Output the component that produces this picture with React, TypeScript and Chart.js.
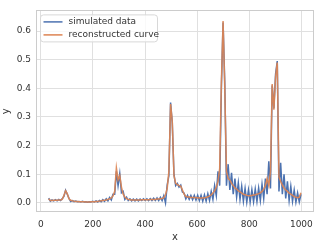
import React, { useEffect, useRef } from "react";
import { Chart, registerables } from "chart.js";

Chart.register(...registerables);

const xs = [
  30, 36.5, 43, 49.5, 56, 62.5, 69, 75.5, 82, 88.5,
  95, 101.5, 108, 114.5, 121, 127.5, 134, 140.5, 147, 153.5,
  160, 166.5, 173, 179.5, 186, 192.5, 199, 205.5, 212, 218.5,
  225, 231.5, 238, 244.5, 251, 257.5, 264, 270.5, 277, 283.5,
  290, 296.5, 303, 309.5, 316, 322.5, 329, 335.5, 342, 348.5,
  355, 361.5, 368, 374.5, 381, 387.5, 394, 400.5, 407, 413.5,
  420, 426.5, 433, 439.5, 446, 452.5, 459, 465.5, 472, 478.5,
  485, 491.5, 498, 504.5, 511, 517.5, 524, 530.5, 537, 543.5,
  550, 556.5, 563, 569.5, 576, 582.5, 589, 595.5, 602, 608.5,
  615, 621.5, 628, 634.5, 641, 647.5, 654, 660.5, 667, 673.5,
  680, 686.5, 693, 699.5, 706, 712.5, 719, 725.5, 732, 738.5,
  745, 751.5, 758, 764.5, 771, 777.5, 784, 790.5, 797, 803.5,
  810, 816.5, 823, 829.5, 836, 842.5, 849, 855.5, 862, 868.5,
  875, 881.5, 888, 894.5, 901, 907.5, 914, 920.5, 927, 933.5,
  940, 946.5, 953, 959.5, 966, 972.5, 979, 985.5, 992, 998.5,
];

const simulated = [
  0.016, 0.006, 0.010, 0.007, 0.011, 0.007, 0.012, 0.008, 0.014, 0.022,
  0.044, 0.030, 0.016, 0.005, 0.008, 0.004, 0.006, 0.004, 0.005, 0.003,
  0.005, 0.003, 0.004, 0.002, 0.004, 0.003, 0.005, 0.003, 0.007, 0.003,
  0.008, 0.004, 0.011, 0.005, 0.014, 0.007, 0.019, 0.010, 0.030, 0.030,
  0.110, 0.060, 0.102, 0.035, 0.040, 0.012, 0.020, 0.008, 0.014, 0.007,
  0.013, 0.007, 0.013, 0.007, 0.013, 0.008, 0.014, 0.008, 0.014, 0.008,
  0.015, 0.008, 0.016, 0.008, 0.017, 0.008, 0.019, 0.008, 0.025, 0.000,
  0.062, 0.095, 0.350, 0.280, 0.100, 0.060, 0.068, 0.055, 0.062, 0.038,
  0.034, 0.014, 0.026, 0.012, 0.026, 0.011, 0.026, 0.010, 0.026, 0.008,
  0.026, 0.006, 0.028, 0.006, 0.032, 0.008, 0.040, 0.012, 0.060, 0.025,
  0.110, 0.060, 0.400, 0.630, 0.420, 0.060, 0.135, 0.045, 0.105, 0.030,
  0.085, 0.020, 0.070, 0.012, 0.058, 0.005, 0.050, 0.002, 0.045, 0.003,
  0.046, 0.004, 0.048, 0.005, 0.052, 0.008, 0.065, 0.015, 0.085, 0.030,
  0.145, 0.050, 0.410, 0.330, 0.450, 0.495, 0.040, 0.140, 0.030, 0.100,
  0.015, 0.075, 0.008, 0.058, 0.005, 0.045, 0.002, 0.035, 0.003, 0.030,
];

const reconstructed = [
  0.014, 0.008, 0.008, 0.009, 0.009, 0.009, 0.010, 0.010, 0.012, 0.025,
  0.042, 0.032, 0.014, 0.009, 0.007, 0.006, 0.005, 0.005, 0.004, 0.004,
  0.004, 0.004, 0.003, 0.003, 0.003, 0.004, 0.004, 0.004, 0.005, 0.005,
  0.006, 0.007, 0.008, 0.009, 0.010, 0.012, 0.014, 0.017, 0.024, 0.040,
  0.122, 0.080, 0.095, 0.055, 0.030, 0.020, 0.015, 0.012, 0.011, 0.010,
  0.010, 0.010, 0.010, 0.010, 0.010, 0.011, 0.011, 0.011, 0.011, 0.011,
  0.012, 0.012, 0.012, 0.012, 0.013, 0.013, 0.014, 0.015, 0.018, 0.028,
  0.050, 0.110, 0.345, 0.285, 0.095, 0.068, 0.064, 0.060, 0.058, 0.045,
  0.030, 0.022, 0.020, 0.020, 0.019, 0.019, 0.019, 0.018, 0.018, 0.017,
  0.017, 0.017, 0.018, 0.019, 0.021, 0.024, 0.028, 0.034, 0.042, 0.055,
  0.075, 0.120, 0.420, 0.635, 0.400, 0.110, 0.085, 0.080, 0.068, 0.060,
  0.052, 0.048, 0.042, 0.038, 0.034, 0.030, 0.028, 0.026, 0.025, 0.025,
  0.026, 0.027, 0.028, 0.030, 0.032, 0.035, 0.040, 0.048, 0.060, 0.085,
  0.060, 0.110, 0.415, 0.325, 0.440, 0.490, 0.090, 0.075, 0.062, 0.052,
  0.045, 0.040, 0.034, 0.030, 0.026, 0.022, 0.020, 0.018, 0.020, 0.035,
];

const xTicks = [0, 200, 400, 600, 800, 1000];
const yTicks = [0, 0.1, 0.2, 0.3, 0.4, 0.5, 0.6];
const seriesNames = ["simulated data", "reconstructed curve"];
const seriesColors = ["#4c72b0", "#dd8452"];

const FONT = "'DejaVu Sans', sans-serif";
const TEXT = "#333333";

const framePlugin = {
  id: "frame",
  afterDatasetsDraw(chart: any) {
    const { ctx, chartArea: a } = chart;
    ctx.save();
    ctx.strokeStyle = "#cccccc";
    ctx.lineWidth = 1;
    ctx.strokeRect(Math.round(a.left) + 0.5, Math.round(a.top) + 0.5, Math.round(a.right - a.left) - 1, Math.round(a.bottom - a.top) - 1);

    // legend
    const bx = a.left + 4.5, by = a.top + 4.5, bw = 117, bh = 27;
    ctx.beginPath();
    const r = 3;
    ctx.moveTo(bx + r, by);
    ctx.lineTo(bx + bw - r, by);
    ctx.quadraticCurveTo(bx + bw, by, bx + bw, by + r);
    ctx.lineTo(bx + bw, by + bh - r);
    ctx.quadraticCurveTo(bx + bw, by + bh, bx + bw - r, by + bh);
    ctx.lineTo(bx + r, by + bh);
    ctx.quadraticCurveTo(bx, by + bh, bx, by + bh - r);
    ctx.lineTo(bx, by + r);
    ctx.quadraticCurveTo(bx, by, bx + r, by);
    ctx.closePath();
    ctx.fillStyle = "rgba(255,255,255,0.8)";
    ctx.fill();
    ctx.strokeStyle = "#d8d8d8";
    ctx.stroke();

    ctx.font = `9px ${FONT}`;
    ctx.textBaseline = "middle";
    ctx.textAlign = "left";
    seriesNames.forEach((name, i) => {
      const y = by + 7 + i * 13;
      ctx.strokeStyle = seriesColors[i];
      ctx.lineWidth = 1.5;
      ctx.beginPath();
      ctx.moveTo(bx + 3, y);
      ctx.lineTo(bx + 22, y);
      ctx.stroke();
      ctx.fillStyle = TEXT;
      ctx.fillText(name, bx + 28, y);
    });
    ctx.restore();
  },
};

export default function App() {
  const ref = useRef<HTMLCanvasElement>(null);
  useEffect(() => {
    document.body.style.margin = "0";
    const chart = new Chart(ref.current!, {
      type: "line",
      data: {
        datasets: [
          {
            label: seriesNames[0],
            data: xs.map((x, i) => ({ x, y: simulated[i] })),
            borderColor: seriesColors[0],
            borderWidth: 1.5,
            pointRadius: 0,
            tension: 0,
            order: 1,
          },
          {
            label: seriesNames[1],
            data: xs.map((x, i) => ({ x, y: reconstructed[i] })),
            borderColor: "rgba(221,132,82,0.92)",
            borderWidth: 1.5,
            pointRadius: 0,
            tension: 0,
            order: 0,
          },
        ],
      },
      options: {
        responsive: false,
        animation: false,
        layout: { padding: { top: 4, right: 4, left: 0, bottom: 0 } },
        plugins: { legend: { display: false }, tooltip: { enabled: false } },
        scales: {
          x: {
            type: "linear",
            min: -18.5,
            max: 1048.5,
            afterBuildTicks: (s: any) => {
              s.ticks = xTicks.map((v) => ({ value: v }));
            },
            afterFit: (s: any) => {
              s.height = 31;
            },
            ticks: {
              font: { family: FONT, size: 9 },
              color: TEXT,
              padding: 7,
              maxRotation: 0,
              callback: (v: any) => String(v),
            },
            grid: { color: "#e0e0e0", lineWidth: 1, drawTicks: false },
            border: { display: false },
            title: { display: true, text: "x", font: { family: FONT, size: 10 }, color: TEXT, padding: 0 },
          },
          y: {
            type: "linear",
            min: -0.032,
            max: 0.672,
            afterBuildTicks: (s: any) => {
              s.ticks = yTicks.map((v) => ({ value: v }));
            },
            afterFit: (s: any) => {
              s.width = 36;
            },
            ticks: {
              font: { family: FONT, size: 9 },
              color: TEXT,
              padding: 5,
              callback: (v: any) => Number(v).toFixed(1),
            },
            grid: { color: "#e0e0e0", lineWidth: 1, drawTicks: false },
            border: { display: false },
            title: { display: true, text: "y", font: { family: FONT, size: 10 }, color: TEXT, padding: 0 },
          },
        },
      },
      plugins: [framePlugin],
    });
    return () => chart.destroy();
  }, []);
  return (
    <div style={{ width: 320, height: 243 }}>
      <canvas ref={ref} width={320} height={243} />
    </div>
  );
}
